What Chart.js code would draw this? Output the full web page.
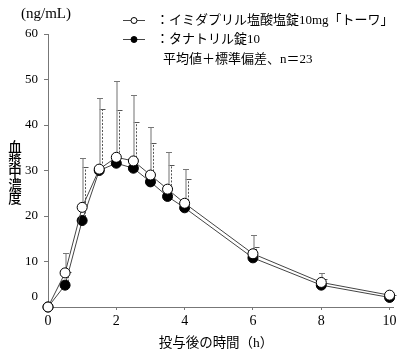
<!DOCTYPE html>
<html><head><meta charset="utf-8">
<script src="https://cdn.jsdelivr.net/npm/chart.js@4/dist/chart.umd.min.js"></script>
<style>html,body{margin:0;padding:0;background:#fff}#c{display:block}</style>
</head><body>
<canvas id="c" width="400" height="356"></canvas>
<script>
const times = [0, 0.5, 1, 1.5, 2, 2.5, 3, 3.5, 4, 6, 8, 10];
const testMean = [0, 7.5, 21.9, 30.3, 32.9, 32.1, 29.0, 25.9, 22.8, 11.7, 5.4, 2.6];
const refMean  = [0, 4.8, 19.0, 30.0, 31.6, 30.5, 27.5, 24.3, 21.8, 10.8, 4.8, 2.1];
const testTop  = [null, 11.9, 32.8, 46.0, 49.6, 46.5, 39.5, 34.0, 30.3, 15.8, 7.4, 3.2];
const refTop   = [null, 7.6, 30.8, 43.5, 43.3, 40.6, 36.0, 31.1, 28.1, 13.2, 6.1, 2.6];
const xTicks = [0, 2, 4, 6, 8, 10];
const yTicks = [0, 10, 20, 30, 40, 50, 60];
const legendTest = "：イミダプリル塩酸塩錠10mg「トーワ」";
const legendRef = "：タナトリル錠10";
const legendNote = "平均値＋標準偏差、n＝23";
const unitLabel = "(ng/mL)";
const yTitleChars = ["血","漿","中","濃","度"];
const xTitle = "投与後の時間（h）";

const FONT = "'Liberation Serif', 'Noto Sans CJK JP', serif";
const CJK = "'Noto Sans CJK JP', sans-serif";

const errPlugin = {
  id: 'err',
  beforeDatasetsDraw(chart) {
    const {ctx, scales: {x, y}} = chart;
    ctx.save();
    times.forEach((t, i) => {
      const px = x.getPixelForValue(t);
      if (refTop[i] != null) {
        const bx = Math.round(px + 3) + 0.5;
        const y0 = y.getPixelForValue(refMean[i]);
        const y1 = Math.round(y.getPixelForValue(refTop[i])) + 0.5;
        ctx.strokeStyle = '#555';
        ctx.lineWidth = 1;
        ctx.setLineDash([2, 1.5]);
        ctx.beginPath(); ctx.moveTo(bx, y0); ctx.lineTo(bx, y1); ctx.stroke();
        ctx.setLineDash([]);
        ctx.beginPath(); ctx.moveTo(bx - 3, y1); ctx.lineTo(bx + 3, y1); ctx.stroke();
      }
      if (testTop[i] != null) {
        const bx = Math.round(px + 1);
        const y0 = y.getPixelForValue(testMean[i]);
        const y1 = Math.round(y.getPixelForValue(testTop[i])) + 0.5;
        ctx.strokeStyle = '#a0a0a0';
        ctx.lineWidth = 1.5;
        ctx.beginPath(); ctx.moveTo(bx, y0); ctx.lineTo(bx, y1); ctx.stroke();
        ctx.strokeStyle = '#777';
        ctx.lineWidth = 1;
        ctx.beginPath(); ctx.moveTo(bx - 3, y1); ctx.lineTo(bx + 3, y1); ctx.stroke();
      }
    });
    ctx.restore();
  }
};

const textPlugin = {
  id: 'texts',
  afterDraw(chart) {
    const {ctx, scales: {x, y}} = chart;
    ctx.save();
    ctx.setTransform(1, 0, 0, 1, 0, 0);
    ctx.fillStyle = '#000';
    // unit
    ctx.font = "15px " + FONT;
    ctx.textAlign = 'left'; ctx.textBaseline = 'middle';
    ctx.fillText(unitLabel, 21, 14);
    // zero label (offset above axis)
    ctx.font = "13px " + FONT;
    ctx.textAlign = 'right';
    ctx.fillText("0", 38, y.getPixelForValue(0) - 10);
    // y title: one upright character per row
    ctx.font = "500 13.5px " + CJK;
    ctx.textAlign = 'center';
    ctx.textBaseline = 'top';
    for (let i = 0; i < yTitleChars.length; i++) {
      ctx.fillText(yTitleChars[i], 15, 140 + i * 12.8);
    }
    ctx.textBaseline = 'middle';
    // x title
    ctx.font = "13.5px " + FONT;
    ctx.fillText(xTitle, 216, 343);
    // legend
    ctx.font = "13px " + FONT;
    ctx.textAlign = 'left';
    const rows = [[20.5, '#fff', legendTest], [39.5, '#000', legendRef]];
    rows.forEach(([ly, fill, txt]) => {
      ctx.strokeStyle = '#444'; ctx.lineWidth = 1;
      ctx.beginPath(); ctx.moveTo(123, ly); ctx.lineTo(145, ly); ctx.stroke();
      ctx.beginPath(); ctx.arc(134, ly, 3, 0, Math.PI * 2);
      ctx.fillStyle = fill; ctx.fill();
      ctx.strokeStyle = '#000'; ctx.stroke();
      ctx.fillStyle = '#000';
      ctx.fillText(txt, 156, ly);
    });
    ctx.fillText(legendNote, 163, 60);
    ctx.restore();
  }
};

new Chart(document.getElementById('c'), {
  type: 'line',
  data: {
    datasets: [
      {
        label: 'test',
        data: times.map((t, i) => ({x: t, y: testMean[i]})),
        borderColor: '#444', borderWidth: 1,
        pointRadius: 5, pointBackgroundColor: '#fff', pointBorderColor: '#000', pointBorderWidth: 1,
        clip: false, tension: 0
      },
      {
        label: 'ref',
        data: times.map((t, i) => ({x: t, y: refMean[i]})),
        borderColor: '#444', borderWidth: 1,
        pointRadius: 5, pointBackgroundColor: '#000', pointBorderColor: '#000', pointBorderWidth: 1,
        clip: false, tension: 0
      }
    ]
  },
  options: {
    responsive: false, animation: false, devicePixelRatio: 1,
    layout: {padding: {top: 34, right: 7, left: 0, bottom: 0}},
    plugins: {legend: {display: false}, tooltip: {enabled: false}},
    scales: {
      x: {
        type: 'linear', min: 0, max: 10.1,
        afterBuildTicks: s => { s.ticks = xTicks.map(v => ({value: v})); },
        afterFit: s => { s.height = 49; },
        grid: {drawOnChartArea: false, tickLength: 3, color: '#777'},
        border: {color: '#777'},
        ticks: {color: '#000', font: {family: FONT, size: 14}, padding: 3, maxRotation: 0}
      },
      y: {
        type: 'linear', min: 0, max: 60,
        afterBuildTicks: s => { s.ticks = yTicks.map(v => ({value: v})); },
        afterFit: s => { s.width = 48; },
        grid: {drawOnChartArea: false, tickLength: 4, color: '#777'},
        border: {color: '#777'},
        ticks: {color: '#000', font: {family: FONT, size: 13}, padding: 6,
                callback: v => v === 0 ? '' : v}
      }
    }
  },
  plugins: [errPlugin, textPlugin]
});
</script>
</body></html>
